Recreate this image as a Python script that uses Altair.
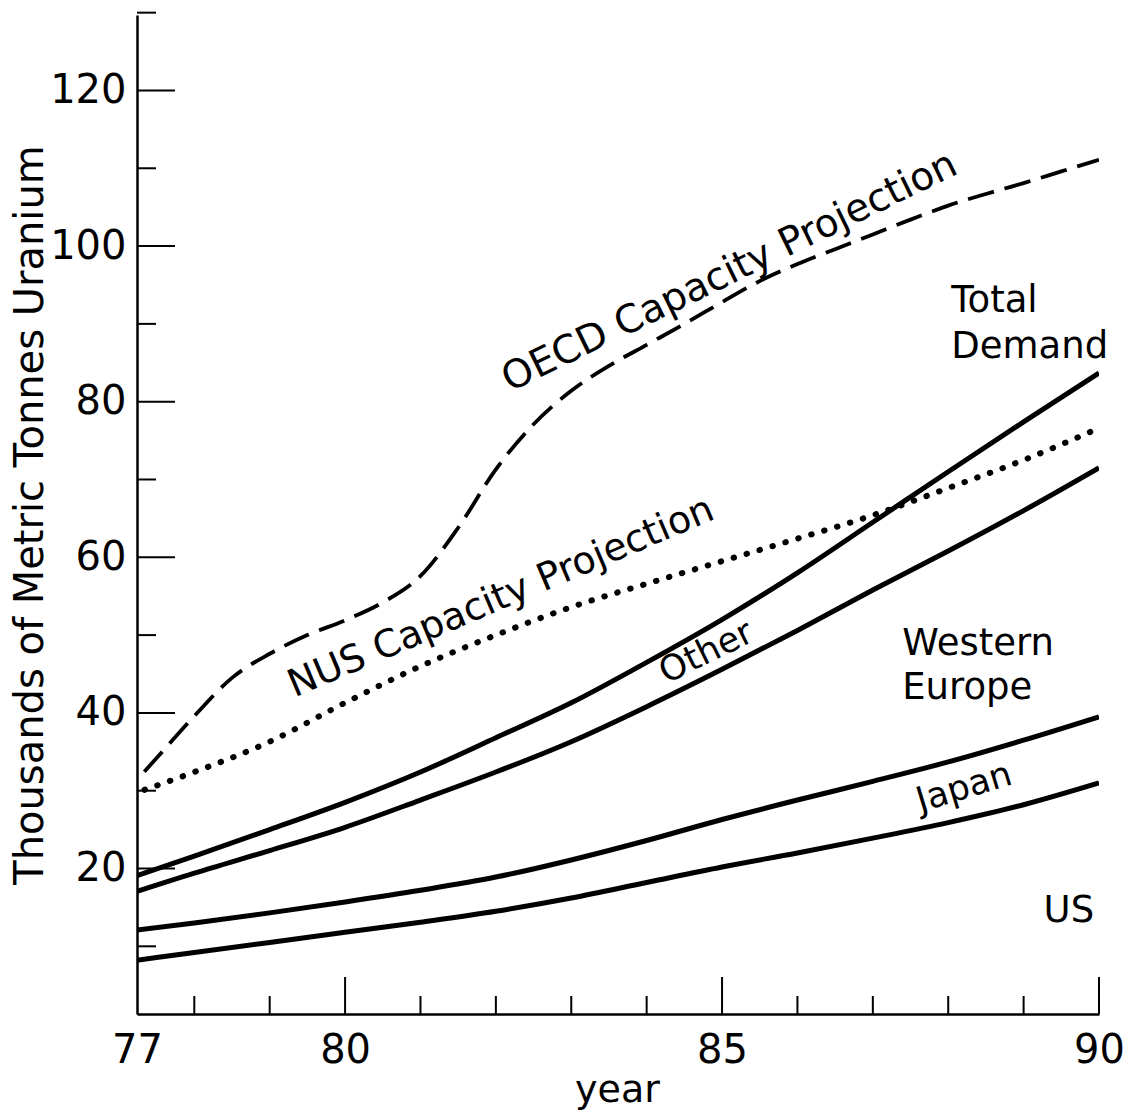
import altair as alt
import pandas as pd

# ---------------- data ----------------
years = [77, 78, 79, 80, 81, 82, 83, 84, 85, 86, 87, 88, 89, 90]

# cumulative demand curves (solid lines), thousands of metric tonnes U
us = [7.9, 9.2, 10.5, 11.8, 13.1, 14.5, 16.2, 18.2, 20.2, 22.0, 23.9, 25.9, 28.2, 31.0]
us_japan = [11.8, 13.0, 14.3, 15.7, 17.2, 18.9, 21.1, 23.6, 26.3, 28.8, 31.2, 33.7, 36.5, 39.5]
us_japan_weurope = [16.3, 19.4, 22.3, 25.3, 28.8, 32.4, 36.3, 40.8, 45.6, 50.6, 55.8, 60.8, 66.0, 71.5]
total_demand = [18.3, 21.6, 25.0, 28.5, 32.4, 36.8, 41.3, 46.5, 52.0, 58.0, 64.5, 71.0, 77.4, 83.7]

# NUS capacity projection (dotted)
nus_capacity = [29.0, 32.4, 36.3, 41.3, 46.0, 50.0, 53.6, 56.6, 59.5, 62.4, 65.4, 68.9, 72.5, 76.6]

# OECD capacity projection (dashed), read every half year
oecd_years = [77.0, 77.5, 78.0, 78.5, 79.0, 79.5, 80.0, 80.5, 81.0, 81.5, 82.0, 82.5, 83.0,
              83.5, 84.0, 84.5, 85.0, 85.5, 86.0, 86.5, 87.0, 87.5, 88.0, 88.5, 89.0, 89.5, 90.0]
oecd_capacity = [28.8, 34.2, 39.6, 44.5, 47.6, 50.0, 51.9, 54.2, 57.6, 63.8, 71.3, 77.1, 81.4,
                 84.6, 87.3, 90.0, 92.8, 95.5, 97.7, 99.6, 101.5, 103.4, 105.2, 106.7, 108.1, 109.6, 111.1]

# axis ticks / labels
x_label_values = [77.24, 80, 85, 90]
x_major_ticks = [80, 85, 90]
x_minor_ticks = [78, 79, 81, 82, 83, 84, 86, 87, 88, 89]
y_label_values = [20, 40, 60, 80, 100, 120]
y_major_ticks = [20, 40, 60, 80, 100, 120]
y_minor_ticks = [10, 30, 50, 70, 90, 110, 130]

# ---------------- tables ----------------
solid_df = pd.concat([
    pd.DataFrame({"year": years, "value": us, "series": "US"}),
    pd.DataFrame({"year": years, "value": us_japan, "series": "US+Japan"}),
    pd.DataFrame({"year": years, "value": us_japan_weurope, "series": "US+Japan+W.Europe"}),
    pd.DataFrame({"year": years, "value": total_demand, "series": "Total Demand"}),
])
nus_df = pd.DataFrame({"year": years, "value": nus_capacity})
oecd_df = pd.DataFrame({"year": oecd_years, "value": oecd_capacity})
xmaj_df = pd.DataFrame({"year": x_major_ticks})
xmin_df = pd.DataFrame({"year": x_minor_ticks})
ymaj_df = pd.DataFrame({"value": y_major_ticks})
ymin_df = pd.DataFrame({"value": y_minor_ticks})
anchor_df = pd.DataFrame({"k": [0]})

# ---------------- layout ----------------
W, H = 962, 999
FONT = "DejaVu Sans"

xs = alt.Scale(domain=[77.24, 90], nice=False, zero=False)
ys = alt.Scale(domain=[1.3, 129.7], nice=False, zero=False)

x_axis = alt.Axis(
    values=x_label_values, labelExpr="'' + round(datum.value)",
    ticks=False, grid=False, domainColor="black", domainWidth=2.5,
    labelFont=FONT, labelFontSize=40, labelColor="black", labelPadding=16,
    labelFlush=False, labelOverlap=False,
    title="year", titleFont=FONT, titleFontSize=38, titleFontWeight="normal",
    titleColor="black", titleX=480, titleY=76, titleBaseline="middle",
)
y_axis = alt.Axis(
    values=y_label_values, ticks=False, grid=False,
    domainColor="black", domainWidth=2.5,
    labelFont=FONT, labelFontSize=40, labelColor="black", labelPadding=11,
    title="Thousands of Metric Tonnes Uranium", titleFont=FONT, titleFontSize=40,
    titleFontWeight="normal", titleColor="black", titleX=-107, titleY=H / 2,
    titleAngle=270, titleBaseline="middle",
)

X = alt.X("year:Q", scale=xs, axis=x_axis)
Y = alt.Y("value:Q", scale=ys, axis=y_axis)

solid = alt.Chart(solid_df).mark_line(
    color="black", strokeWidth=5, interpolate="monotone", clip=True
).encode(x=X, y=Y, detail="series:N")

nus = alt.Chart(nus_df).mark_line(
    color="black", strokeWidth=6, strokeDash=[0.5, 13], strokeCap="round",
    interpolate="monotone", clip=True
).encode(x=X, y=Y)

oecd = alt.Chart(oecd_df).mark_line(
    color="black", strokeWidth=3.8, strokeDash=[27, 11],
    interpolate="monotone", clip=True
).encode(x=X, y=Y)

x_major = alt.Chart(xmaj_df).mark_rule(color="black", strokeWidth=2).encode(
    x=X, y=alt.value(H), y2=alt.value(H - 37))
x_minor = alt.Chart(xmin_df).mark_rule(color="black", strokeWidth=2).encode(
    x=X, y=alt.value(H), y2=alt.value(H - 18))
y_major = alt.Chart(ymaj_df).mark_rule(color="black", strokeWidth=2).encode(
    y=Y, x=alt.value(0), x2=alt.value(38))
y_minor = alt.Chart(ymin_df).mark_rule(color="black", strokeWidth=2).encode(
    y=Y, x=alt.value(0), x2=alt.value(19))


def label(text, year, value, size=36, angle=0, align="center"):
    return alt.Chart(anchor_df).mark_text(
        text=text, font=FONT, fontSize=size, angle=angle, align=align,
        baseline="middle", color="black"
    ).encode(
        x=alt.XDatum(year, type="quantitative", scale=xs, axis=x_axis),
        y=alt.YDatum(value, type="quantitative", scale=ys, axis=y_axis),
    )


labels = [
    label("OECD Capacity Projection", 85.1, 96.7, size=39, angle=334),
    label("NUS Capacity Projection", 82.07, 54.8, size=38, angle=337),
    label("Other", 84.79, 47.8, size=35, angle=334),
    label("Total", 88.04, 92.9, size=37, align="left"),
    label("Demand", 88.04, 87.0, size=37, align="left"),
    label("Western", 87.39, 48.8, size=37, align="left"),
    label("Europe", 87.39, 43.2, size=37, align="left"),
    label("Japan", 88.21, 30.4, size=35, angle=343),
    label("US", 89.6, 14.5, size=37),
]

chart = alt.layer(
    solid, nus, oecd, x_major, x_minor, y_major, y_minor, *labels
).properties(
    width=W, height=H,
    padding={"left": 137, "top": 15, "right": 32, "bottom": 101},
    autosize=alt.AutoSizeParams(type="none"),
    background="white",
).configure_view(stroke=None)

chart.save("out.html", embed_options={"renderer": "svg", "actions": False})
